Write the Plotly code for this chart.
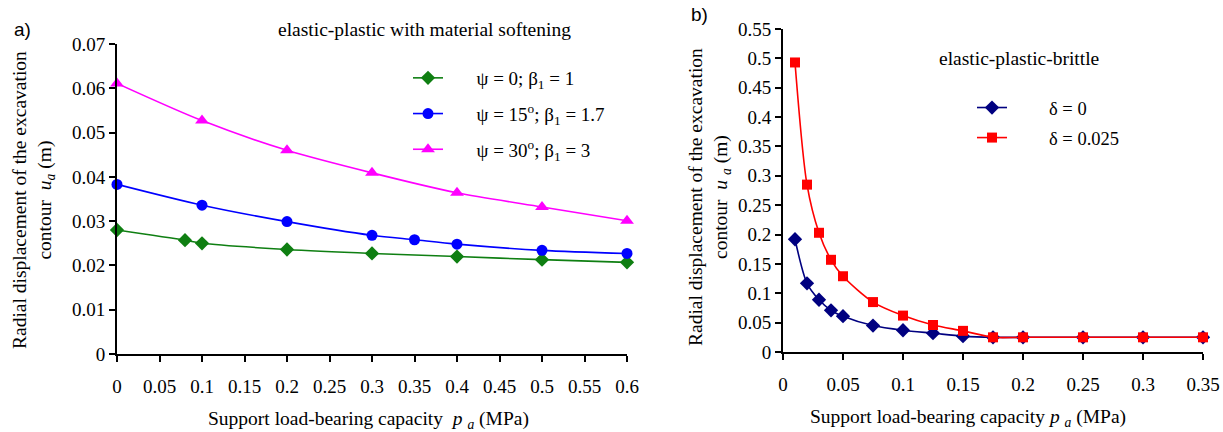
import plotly.graph_objects as go

# ---- panel a data ----
xa_green = [0, 0.08, 0.1, 0.2, 0.3, 0.4, 0.5, 0.6]
ya_green = [0.0280, 0.0257, 0.0250, 0.0236, 0.0227, 0.0220, 0.0213, 0.0207]
xa_blue = [0, 0.1, 0.2, 0.3, 0.35, 0.4, 0.5, 0.6]
ya_blue = [0.0383, 0.0336, 0.0299, 0.0268, 0.0258, 0.0248, 0.0234, 0.0227]
xa_mag = [0, 0.1, 0.2, 0.3, 0.4, 0.5, 0.6]
ya_mag = [0.0611, 0.0527, 0.0460, 0.0409, 0.0364, 0.0332, 0.0301]
names_a = ["ψ = 0; β<sub>1</sub> = 1", "ψ = 15<sup>o</sup>; β<sub>1</sub> = 1.7", "ψ = 30<sup>o</sup>; β<sub>1</sub> = 3"]

# ---- panel b data ----
xb = [0.01, 0.02, 0.03, 0.04, 0.05, 0.075, 0.1, 0.125, 0.15, 0.175, 0.2, 0.25, 0.3, 0.35]
yb_d0 = [0.192, 0.117, 0.089, 0.071, 0.061, 0.045, 0.037, 0.032, 0.027, 0.025, 0.025, 0.025, 0.025, 0.025]
yb_d025 = [0.493, 0.285, 0.203, 0.157, 0.129, 0.085, 0.062, 0.046, 0.036, 0.025, 0.025, 0.025, 0.025, 0.025]
names_b = ["δ = 0", "δ = 0.025"]

W, H = 1223, 432
def px(x): return x / W
def py(y): return (H - y) / H

SERIF = "Liberation Serif"
SANS = "Liberation Sans"
fig = go.Figure()

def add(x, y, name, color, symbol, size, xa, ya, legend, group, pad):
    fig.add_trace(go.Scatter(
        x=x, y=y, name="\u00a0" * pad + name, mode="lines+markers",
        line=dict(color=color, width=1.6, shape="spline", smoothing=0.8),
        marker=dict(color=color, symbol=symbol, size=size),
        xaxis=xa, yaxis=ya, legend=legend, legendgroup=group, cliponaxis=False))

add(xa_green, ya_green, names_a[0], "#0f7f12", "diamond", 11, "x", "y", "legend", "g1", 6)
add(xa_blue, ya_blue, names_a[1], "#0000ff", "circle", 11, "x", "y", "legend", "g2", 6)
add(xa_mag, ya_mag, names_a[2], "#ff00ff", "triangle-up", 12, "x", "y", "legend", "g3", 6)
add(xb, yb_d0, names_b[0], "#000080", "diamond", 11, "x2", "y2", "legend2", "h1", 8)
add(xb, yb_d025, names_b[1], "#ff0000", "square", 10, "x2", "y2", "legend2", "h2", 8)

axis_common = dict(showline=True, linecolor="black", linewidth=2, ticks="outside",
                   ticklen=6, tickwidth=2, tickcolor="black", showgrid=False, zeroline=False,
                   automargin=False,
                   tickfont=dict(family=SERIF, size=19, color="black"))

fig.update_layout(
    width=W, height=H, margin=dict(l=0, r=0, t=0, b=0, autoexpand=False),
    font=dict(family=SERIF, color="black", size=19),
    paper_bgcolor="white", plot_bgcolor="white", showlegend=True,
    xaxis=dict(domain=[px(117), px(627)], range=[0, 0.6], dtick=0.05, anchor="y",
               ticklabelstandoff=8, **axis_common),
    yaxis=dict(domain=[py(354), py(44)], range=[0, 0.07], dtick=0.01, anchor="x", **axis_common),
    xaxis2=dict(domain=[px(783), px(1203)], range=[0, 0.35], dtick=0.05, anchor="y2",
                ticklabelstandoff=8, **axis_common),
    yaxis2=dict(domain=[py(352), py(29)], range=[0, 0.55], dtick=0.05, anchor="x2", **axis_common),
    legend=dict(x=px(408), y=py(59), xanchor="left", yanchor="top", bgcolor="rgba(0,0,0,0)",
                font=dict(family=SERIF, size=19, color="black"), traceorder="grouped",
                tracegroupgap=8),
    legend2=dict(x=px(972), y=py(89), xanchor="left", yanchor="top", bgcolor="rgba(0,0,0,0)",
                 font=dict(family=SERIF, size=18.5, color="black"), traceorder="grouped",
                 tracegroupgap=3),
)

ann = []
def A(x, y, text, size=19.5, family=SERIF, angle=0, xanchor="center"):
    ann.append(dict(x=px(x), y=py(y), xref="paper", yref="paper", text=text, showarrow=False,
                    font=dict(family=family, size=size, color="black"), textangle=angle,
                    xanchor=xanchor, yanchor="middle"))

A(12, 30, "a)", size=19, family=SANS, xanchor="left")
A(689, 15, "b)", size=19, family=SANS, xanchor="left")
A(424, 30, "elastic-plastic with material softening")
A(1019, 58, "elastic-plastic-brittle")
A(34, 200, "Radial displacement of the excavation<br>contour  <i>u<sub>a</sub></i> (m)", angle=-90)
A(709, 197, "Radial displacement of the excavation<br>contour  <i>u <sub>a</sub></i> (m)", angle=-90)
A(368, 420, "Support load-bearing capacity  <i>p <sub>a</sub></i> (MPa)")
A(968, 418, "Support load-bearing capacity <i>p <sub>a</sub></i> (MPa)")
fig.update_layout(annotations=ann)

fig.write_html("out.html")
